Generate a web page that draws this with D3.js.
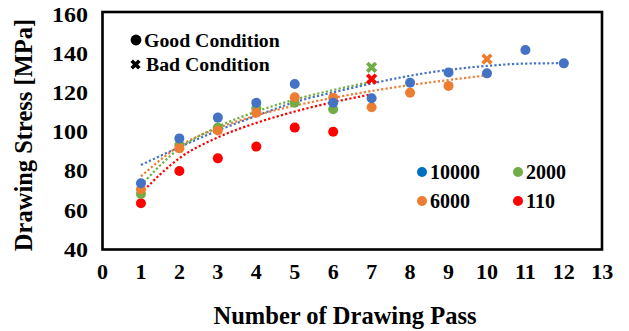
<!DOCTYPE html>
<html>
<head>
<meta charset="utf-8">
<script src="https://cdn.jsdelivr.net/npm/d3@7"></script>
<style>
  body { margin: 0; background: #fff; }
  svg { display: block; }
  text { font-family: "Liberation Serif", "Times New Roman", serif; font-weight: bold; fill: #000; }
</style>
</head>
<body>
<svg id="chart" width="629" height="331"></svg>
<script>
// Drawing stress [MPa] per drawing pass, one array per condition series
const passes = [1, 2, 3, 4, 5, 6, 7, 8, 9, 10, 11, 12];
const stress10000 = [74.1, 97.0, 107.6, 115.2, 124.8, 115.2, 117.5, 125.4, 130.6, 130.2, 142.1, 135.3];
const stress6000  = [71.0, 91.9, 101.0, 110.1, 118.0, 117.8, 112.9, 120.3, 123.8];
const stress2000  = [68.6, 93.6, 102.5, 112.4, 115.2, 111.9];
const stress110   = [63.9, 80.3, 86.8, 92.8, 102.5, 100.4];

// Bad-condition passes: [pass, stress]
const bad6000 = [10, 137.5];
const bad2000 = [7, 133.3];
const bad110  = [7, 127.3];

// Trendline values at each pass
const trend10000 = [83.4, 92.5, 101.0, 108.5, 115.5, 120.5, 125.0, 129.0, 132.0, 134.0, 135.2, 135.4];
const trend6000  = [77.6, 93.1, 102.2, 108.7, 113.7, 117.7, 121.2, 124.2, 126.8, 129.2];
const trend2000  = [73.0, 91.9, 102.9, 110.7, 116.8, 121.7, 125.9];
const trend110   = [68.9, 86.9, 97.5, 104.9, 110.7, 115.5, 119.5];

const seriesNames = ["10000", "6000", "2000", "110"];
const xTickValues = [0, 1, 2, 3, 4, 5, 6, 7, 8, 9, 10, 11, 12, 13];
const yTickValues = [40, 60, 80, 100, 120, 140, 160];
const conditionLabels = ["Good Condition", "Bad Condition"];

const colors = { "10000": "#4472C4", "6000": "#ED7D31", "2000": "#70AD47", "110": "#FF0000" };
const legendColors = { "10000": "#0070C0", "6000": "#ED7D31", "2000": "#70AD47", "110": "#FF0000" };

const series = {
  "10000": { values: stress10000, trend: trend10000, bad: null },
  "6000":  { values: stress6000,  trend: trend6000,  bad: bad6000 },
  "2000":  { values: stress2000,  trend: trend2000,  bad: bad2000 },
  "110":   { values: stress110,   trend: trend110,   bad: bad110 }
};

const svg = d3.select("#chart");
const x = d3.scaleLinear().domain([0, 13]).range([102.5, 602.3]);
const y = d3.scaleLinear().domain([40, 160]).range([250, 15]);

// plot frame
svg.append("rect")
  .attr("x", 102.5).attr("y", 12).attr("width", 499.5).attr("height", 237.5)
  .attr("fill", "none").attr("stroke", "#000").attr("stroke-width", 2.6);

// y tick labels (wide bold numerals)
const yLab = svg.append("g");
yTickValues.forEach(v => {
  yLab.append("g")
    .attr("transform", `translate(88,${y(v) + 6.8}) scale(1.2,1)`)
    .append("text")
    .attr("text-anchor", "end")
    .attr("font-size", 20)
    .text(v);
});

// x tick labels
const xLab = svg.append("g");
xTickValues.forEach(v => {
  xLab.append("g")
    .attr("transform", `translate(${x(v)},${279}) scale(1.1,1)`)
    .append("text")
    .attr("text-anchor", "middle")
    .attr("font-size", 20)
    .text(v);
});

// axis titles
svg.append("text")
  .attr("x", 345).attr("y", 324)
  .attr("text-anchor", "middle").attr("font-size", 24.5)
  .text("Number of Drawing Pass");
svg.append("text")
  .attr("transform", `translate(32,${135}) rotate(-90)`)
  .attr("text-anchor", "middle").attr("font-size", 24.5)
  .text("Drawing Stress [MPa]");

// trendlines (dotted)
const line = d3.line()
  .x((d, i) => x(passes[i]))
  .y(d => y(d))
  .curve(d3.curveMonotoneX);
const trendOrder = ["10000", "6000", "2000", "110"];
trendOrder.forEach(k => {
  svg.append("path")
    .attr("d", line(series[k].trend))
    .attr("fill", "none")
    .attr("stroke", colors[k])
    .attr("stroke-width", 2.2)
    .attr("stroke-dasharray", "2.2 2.2");
});

// good-condition markers
const markerOrder = ["110", "2000", "6000", "10000"];
markerOrder.forEach(k => {
  svg.append("g").selectAll("circle")
    .data(series[k].values)
    .join("circle")
    .attr("cx", (d, i) => x(passes[i]))
    .attr("cy", d => y(d))
    .attr("r", 5)
    .attr("fill", colors[k]);
});

// bad-condition markers (X)
function cross(g, cx, cy, s, color, w) {
  g.append("path")
    .attr("d", `M${cx - s},${cy - s}L${cx + s},${cy + s}M${cx - s},${cy + s}L${cx + s},${cy - s}`)
    .attr("stroke", color).attr("stroke-width", w).attr("fill", "none");
}
["2000", "110", "6000"].forEach(k => {
  const b = series[k].bad;
  cross(svg, x(b[0]), y(b[1]), 4.3, colors[k], 3.8);
});

// condition legend
const cond = svg.append("g");
cond.append("circle").attr("cx", 136).attr("cy", 40).attr("r", 5.4).attr("fill", "#000");
cond.append("text").attr("x", 144).attr("y", 47).attr("font-size", 19.8).text(conditionLabels[0]);
cross(cond, 135.5, 64.5, 3.8, "#000", 3.6);
cond.append("text").attr("x", 146).attr("y", 71).attr("font-size", 19.8).text(conditionLabels[1]);

// series legend
const legendPos = [[422, 172], [422, 201], [518, 172], [518, 201]];
const legendKeys = ["10000", "6000", "2000", "110"];
legendKeys.forEach((k, i) => {
  const [lx, ly] = legendPos[i];
  svg.append("circle").attr("cx", lx).attr("cy", ly).attr("r", 5).attr("fill", legendColors[k]);
  svg.append("text").attr("x", lx + 8).attr("y", ly + 7).attr("font-size", 20).text(k);
});
</script>
</body>
</html>
